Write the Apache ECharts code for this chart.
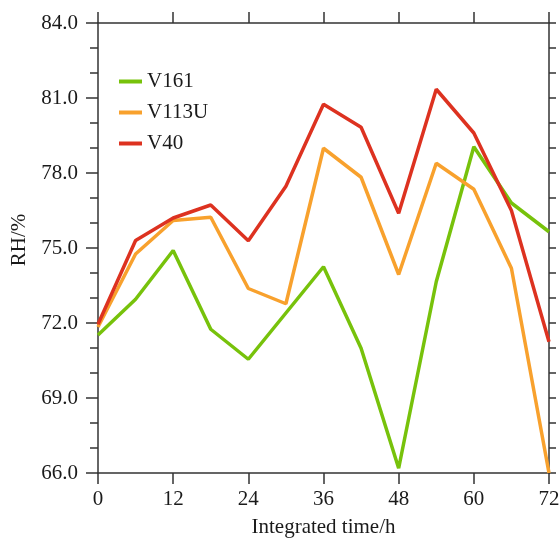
<!DOCTYPE html>
<html>
<head>
<meta charset="utf-8">
<script src="https://cdn.jsdelivr.net/npm/echarts@6/dist/echarts.min.js"></script>
<style>
  html, body { margin: 0; padding: 0; background: #fff; }
  #chart { width: 560px; height: 538px; }
</style>
</head>
<body>
<div id="chart"></div>
<script>
// integrated time (h)
const hours = [0, 6, 12, 18, 24, 30, 36, 42, 48, 54, 60, 66, 72]

// RH (%) per experiment
const v161 = [71.52, 72.95, 74.9, 71.75, 70.55, 72.4, 74.25, 70.99, 66.19, 73.65, 79.05, 76.8, 75.65]
const v113u = [71.84, 74.76, 76.1, 76.23, 73.38, 72.77, 78.99, 77.83, 73.94, 78.39, 77.35, 74.19, 66.0]
const v40 = [71.95, 75.3, 76.2, 76.72, 75.29, 77.47, 80.75, 79.83, 76.39, 81.35, 79.6, 76.5, 71.25]

const seriesNames = ['V161', 'V113U', 'V40']
const seriesColors = ['#77c20b', '#f8a12d', '#dd3220']

const font = 'Liberation Serif, Times New Roman, serif'
const axisColor = '#333'
const textColor = '#1a1a1a'

const chart = echarts.init(document.getElementById('chart'))

function pairs(values) {
  return hours.map((h, i) => [h, values[i]])
}

const xBase = {
  type: 'value',
  min: 0,
  max: 72,
  interval: 12,
  splitLine: { show: false },
  axisLine: { show: true, onZero: false, lineStyle: { color: axisColor, width: 1.5 } },
  axisTick: { show: true, inside: false, length: 11, lineStyle: { color: axisColor, width: 1.5 } }
}

const yBase = {
  type: 'value',
  min: 66,
  max: 84,
  interval: 3,
  splitLine: { show: false },
  axisLine: { show: true, onZero: false, lineStyle: { color: axisColor, width: 1.5 } },
  minorSplitLine: { show: false }
}

const option = {
  animation: false,
  backgroundColor: '#fff',
  grid: { left: 98, right: 11, top: 23, bottom: 65, containLabel: false, outerBoundsMode: 'none' },
  legend: {
    orient: 'vertical',
    left: 114,
    top: 66,
    icon: 'rect',
    itemWidth: 23,
    itemHeight: 4,
    itemGap: 10,
    textStyle: { fontFamily: font, fontSize: 21, color: textColor, lineHeight: 20 },
    data: seriesNames
  },
  xAxis: [
    Object.assign({}, xBase, {
      position: 'bottom',
      name: 'Integrated time/h',
      nameLocation: 'middle',
      nameGap: 44,
      nameTextStyle: { fontFamily: font, fontSize: 21, color: textColor },
      axisLabel: { margin: 16, fontFamily: font, fontSize: 21, color: textColor }
    }),
    Object.assign({}, xBase, {
      position: 'top',
      axisLabel: { show: false }
    })
  ],
  yAxis: [
    Object.assign({}, yBase, {
      position: 'left',
      name: 'RH/%',
      nameLocation: 'middle',
      nameGap: 68,
      nameRotate: 90,
      nameTextStyle: { fontFamily: font, fontSize: 21, color: textColor, padding: [0, 0, 0, 16] },
      axisTick: { show: true, inside: false, length: 12, lineStyle: { color: axisColor, width: 1.5 } },
      minorTick: { show: true, splitNumber: 3, length: 8, lineStyle: { color: axisColor, width: 1.5 } },
      axisLabel: {
        margin: 20,
        fontFamily: font,
        fontSize: 21,
        color: textColor,
        formatter: v => v.toFixed(1)
      }
    }),
    Object.assign({}, yBase, {
      position: 'right',
      axisLabel: { show: false },
      axisTick: { show: true, inside: false, length: 7, lineStyle: { color: axisColor, width: 1.5 } },
      minorTick: { show: true, splitNumber: 3, length: 7, lineStyle: { color: axisColor, width: 1.5 } }
    })
  ],
  series: [v161, v113u, v40].map((vals, i) => ({
    name: seriesNames[i],
    type: 'line',
    data: pairs(vals),
    symbol: 'none',
    clip: false,
    lineStyle: { width: 3.5, color: seriesColors[i] },
    itemStyle: { color: seriesColors[i] },
    z: 3 + i
  }))
}

chart.setOption(option)
</script>
</body>
</html>
